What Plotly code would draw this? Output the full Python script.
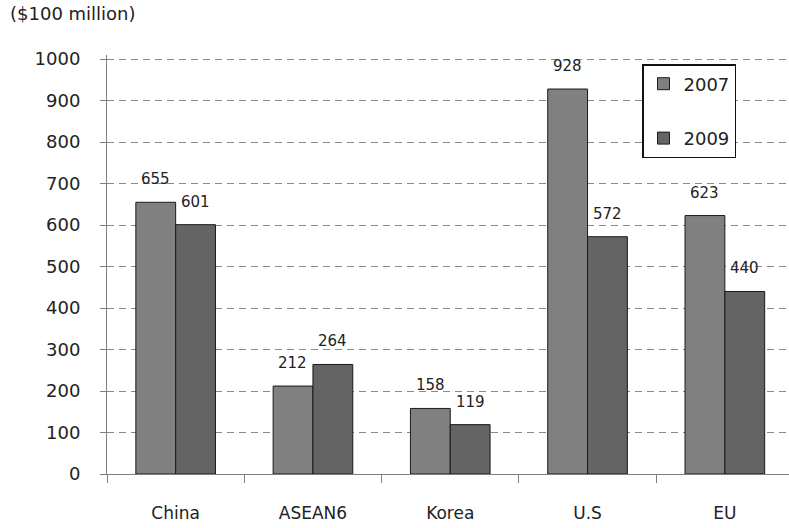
import plotly.graph_objects as go

# Trade values by partner, in units of $100 million
regions = ["China", "ASEAN6", "Korea", "U.S", "EU"]
values_2007 = [655, 212, 158, 928, 623]
values_2009 = [601, 264, 119, 572, 440]
y_ticks = [0, 100, 200, 300, 400, 500, 600, 700, 800, 900, 1000]

W, H = 789, 528
M_L, M_R, M_T, M_B = 107, 0, 55, 54
plot_w = W - M_L - M_R
plot_h = H - M_T - M_B
y_top = 1010
cat_w = 137.3  # pixel width of one category slot
x_max = -0.5 + plot_w / cat_w

fig = go.Figure()
fig.add_trace(go.Bar(
    x=regions, y=values_2007, name="2007", legendgroup="a",
    marker=dict(color="#808080", line=dict(color="#1a1a1a", width=1)),
))
fig.add_trace(go.Bar(
    x=regions, y=values_2009, name="2009", legendgroup="b",
    marker=dict(color="#646464", line=dict(color="#1a1a1a", width=1)),
))

# value labels above each bar
bar_offset = 20
for i, r in enumerate(regions):
    for v, dx in ((values_2007[i], -bar_offset), (values_2009[i], bar_offset)):
        fig.add_annotation(
            x=r, y=v, text=str(v), showarrow=False,
            xshift=dx, yshift=12, yanchor="bottom",
            font=dict(family="DejaVu Sans", size=15, color="#222"),
        )

fig.update_layout(
    width=W, height=H,
    margin=dict(l=M_L, r=M_R, t=M_T, b=M_B),
    paper_bgcolor="white", plot_bgcolor="white",
    barmode="group", bargap=0.42, bargroupgap=0,
    font=dict(family="DejaVu Sans", size=17, color="#222"),
    title=dict(
        text="($100 million)", xref="container", yref="container",
        x=10 / W, xanchor="left", y=1 - 7 / H, yanchor="top",
        font=dict(family="DejaVu Sans", size=18, color="#222"),
    ),
    legend=dict(
        x=(642 - M_L) / plot_w, y=(H - M_B - 64) / plot_h,
        xanchor="left", yanchor="top",
        bgcolor="white", bordercolor="#111", borderwidth=1.5,
        font=dict(family="DejaVu Sans", size=18, color="#222"),
        tracegroupgap=28, itemwidth=30,
    ),
    showlegend=True,
)

fig.update_xaxes(
    type="category", range=[-0.5, x_max],
    showline=True, linecolor="#7f7f7f", linewidth=1,
    ticks="outside", tickson="boundaries", ticklen=8, tickcolor="#7f7f7f",
    ticklabelstandoff=24, showgrid=False,
    tickfont=dict(family="DejaVu Sans", size=17, color="#222"),
)
fig.update_yaxes(
    range=[0, y_top], tickvals=y_ticks,
    showline=True, linecolor="#7f7f7f", linewidth=1,
    ticks="outside", ticklen=6, tickcolor="#7f7f7f", ticklabelstandoff=16,
    showgrid=True, gridcolor="#8a8a8a", griddash="7px,5px", gridwidth=1,
    zeroline=False,
    tickfont=dict(family="DejaVu Sans", size=18, color="#222"),
)

fig.write_html("out.html")
